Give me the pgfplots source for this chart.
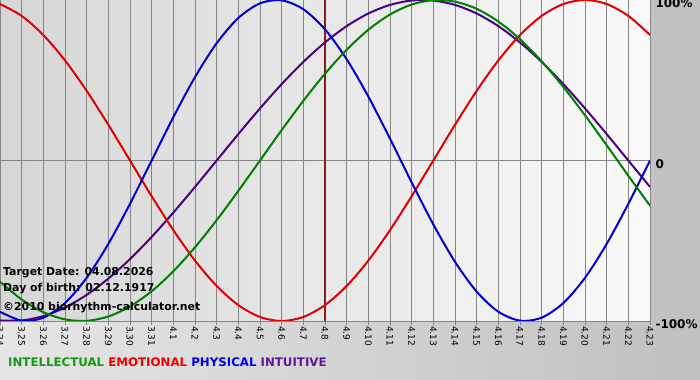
\documentclass[border=0pt]{standalone}
\usepackage{pgfplots}
\pgfplotsset{compat=1.18}
\usepackage{fontspec}
\setmainfont{DejaVu Sans}
\definecolor{cint}{HTML}{008000}
\definecolor{cemo}{HTML}{E00000}
\definecolor{cphy}{HTML}{0000CC}
\definecolor{ctui}{HTML}{4B0082}
\definecolor{lint}{HTML}{119911}
\definecolor{lemo}{HTML}{EE0000}
\definecolor{lphy}{HTML}{0000EE}
\definecolor{ltui}{HTML}{5A1A9A}
\definecolor{gridc}{HTML}{858585}
\definecolor{dayline}{HTML}{8B1A1A}
\begin{document}
\begin{tikzpicture}
\shade[left color={rgb,255:red,230;green,230;blue,230}, right color={rgb,255:red,192;green,192;blue,192}] (0bp,-59bp) rectangle (700bp,321bp);
\useasboundingbox (0bp,-59bp) rectangle (700bp,321bp);
\begin{axis}[
  at={(0bp,0bp)}, anchor=south west,
  width=650bp, height=321bp, scale only axis,
  xmin=0, xmax=30, ymin=-100, ymax=100,
  axis background/.style={shade, left color={rgb,255:red,214;green,214;blue,214}, right color={rgb,255:red,250;green,250;blue,250}},
  axis line style={draw=gridc, line width=1bp},
  xtick={0,...,30},
  xticklabels={3.24,3.25,3.26,3.27,3.28,3.29,3.30,3.31,4.1,4.2,4.3,4.4,4.5,4.6,4.7,4.8,4.9,4.10,4.11,4.12,4.13,4.14,4.15,4.16,4.17,4.18,4.19,4.20,4.21,4.22,4.23},
  xtick pos=bottom, xtick align=outside,
  major tick length=4bp,
  x tick style={draw=gridc, line width=1bp},
  xmajorgrids, ymajorgrids,
  grid style={draw=gridc, line width=1bp},
  xticklabel style={rotate=-90, anchor=west, font=\fontsize{9bp}{10bp}\selectfont, inner sep=1bp},
  ytick={-100,0,100},
  yticklabels={-100\%,0,100\%},
  yticklabel pos=right,
  y tick style={draw=none},
  yticklabel style={anchor=west, font=\bfseries\fontsize{12bp}{14bp}\selectfont, xshift=2bp, yshift=-3.5bp},
  clip=true,
]
\addplot[dayline, line width=2.6bp] coordinates {(15,-100) (15,100)};
\addplot[ctui, line width=2bp, smooth] coordinates {(0,-99.66) (1,-99.66) (2,-96.94) (3,-91.58) (4,-83.72) (5,-73.57) (6,-61.42) (7,-47.59) (8,-32.47) (9,-16.46) (10,0) (11,16.46) (12,32.47) (13,47.59) (14,61.42) (15,73.57) (16,83.72) (17,91.58) (18,96.94) (19,99.66) (20,99.66) (21,96.94) (22,91.58) (23,83.72) (24,73.57) (25,61.42) (26,47.59) (27,32.47) (28,16.46) (29,0) (30,-16.46)};
\addplot[cemo, line width=2bp, smooth] coordinates {(0,97.49) (1,90.10) (2,78.18) (3,62.35) (4,43.39) (5,22.25) (6,0) (7,-22.25) (8,-43.39) (9,-62.35) (10,-78.18) (11,-90.10) (12,-97.49) (13,-100) (14,-97.49) (15,-90.10) (16,-78.18) (17,-62.35) (18,-43.39) (19,-22.25) (20,0) (21,22.25) (22,43.39) (23,62.35) (24,78.18) (25,90.10) (26,97.49) (27,100) (28,97.49) (29,90.10) (30,78.18)};
\addplot[cphy, line width=2bp, smooth] coordinates {(0,-94.23) (1,-99.77) (2,-97.91) (3,-88.79) (4,-73.08) (5,-51.96) (6,-26.98) (7,0) (8,26.98) (9,51.96) (10,73.08) (11,88.79) (12,97.91) (13,99.77) (14,94.23) (15,81.70) (16,63.11) (17,39.84) (18,13.62) (19,-13.62) (20,-39.84) (21,-63.11) (22,-81.70) (23,-94.23) (24,-99.77) (25,-97.91) (26,-88.79) (27,-73.08) (28,-51.96) (29,-26.98) (30,0)};
\addplot[cint, line width=2bp, smooth] coordinates {(0,-75.57) (1,-86.60) (2,-94.50) (3,-98.98) (4,-99.89) (5,-97.18) (6,-90.96) (7,-81.46) (8,-69.01) (9,-54.06) (10,-37.17) (11,-18.93) (12,0) (13,18.93) (14,37.17) (15,54.06) (16,69.01) (17,81.46) (18,90.96) (19,97.18) (20,99.89) (21,98.98) (22,94.50) (23,86.60) (24,75.57) (25,61.82) (26,45.82) (27,28.17) (28,9.51) (29,-9.51) (30,-28.17)};
\end{axis}
\begin{scope}[font=\bfseries\fontsize{10.9bp}{12bp}\selectfont]
\node[anchor=base west, inner sep=0pt] at (3bp,45bp) {Target Date: 04.08.2026};
\node[anchor=base west, inner sep=0pt] at (3bp,30bp) {Day of birth: 02.12.1917};
\node[anchor=base west, inner sep=0pt] at (3bp,11bp) {\char"00A9 2010 biorhythm-calculator.net};
\end{scope}
\begin{scope}[font=\bfseries\fontsize{11.8bp}{13bp}\selectfont]
\node[anchor=base west, inner sep=0pt] at (8bp,-45bp) {\textcolor{lint}{INTELLECTUAL} \textcolor{lemo}{EMOTIONAL} \textcolor{lphy}{PHYSICAL} \textcolor{ltui}{INTUITIVE}};
\end{scope}
\end{tikzpicture}
\end{document}
